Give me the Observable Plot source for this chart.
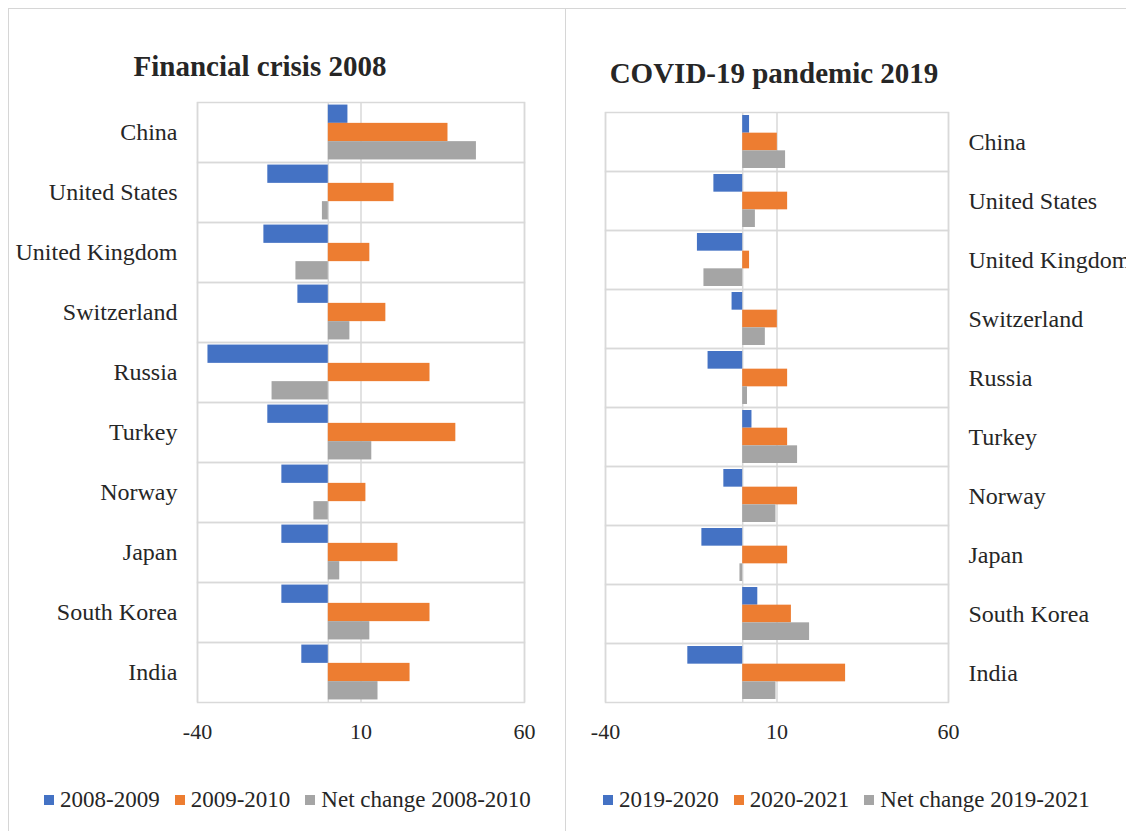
<!DOCTYPE html>
<html>
<head>
<meta charset="utf-8">
<script src="https://cdn.jsdelivr.net/npm/d3@7"></script>
<script src="https://cdn.jsdelivr.net/npm/@observablehq/plot@0.6"></script>
<style>
  html, body { margin: 0; padding: 0; background: #fff; }
  #root { position: relative; width: 1126px; height: 831px; overflow: hidden; font-family: "Liberation Serif", "Times New Roman", serif; color: #262626; }
  .abs { position: absolute; }
  .title { font-weight: bold; font-size: 29px; line-height: 29px; white-space: nowrap; transform: translateX(-50%); }
  .legend { display: flex; gap: 15px; font-size: 23px; line-height: 23px; white-space: nowrap; }
  .legend .item { display: flex; align-items: center; }
  .legend .sw { width: 10px; height: 10px; margin-right: 6px; }
  .line { background: #d6d6d6; }
</style>
</head>
<body>
<div id="root"></div>
<script>
const countries = ["China", "United States", "United Kingdom", "Switzerland", "Russia", "Turkey", "Norway", "Japan", "South Korea", "India"];
const colors = ["#4472C4", "#ED7D31", "#A5A5A5"];
const xTicks = [-40, 10, 60];

// Financial crisis 2008
const seriesA = ["2008-2009", "2009-2010", "Net change 2008-2010"];
const a2008_2009 = [6.0, -18.5, -19.7, -9.3, -36.8, -18.5, -14.2, -14.2, -14.2, -8.1];
const a2009_2010 = [36.6, 20.1, 12.7, 17.6, 31.1, 39.0, 11.5, 21.3, 31.1, 25.0];
const aNet = [45.3, -1.8, -9.9, 6.6, -17.2, 13.3, -4.4, 3.5, 12.7, 15.2];

// COVID-19 pandemic 2019
const seriesB = ["2019-2020", "2020-2021", "Net change 2019-2021"];
const b2019_2020 = [2.0, -8.4, -13.2, -3.1, -10.1, 2.7, -5.5, -11.9, 4.4, -16.0];
const b2020_2021 = [10.1, 13.1, 2.0, 10.1, 13.1, 13.1, 16.0, 13.1, 14.2, 30.0];
const bNet = [12.5, 3.7, -11.3, 6.6, 1.4, 16.0, 9.7, -0.8, 19.5, 9.7];

function longTable(series, arrays) {
  const rows = [];
  countries.forEach((c, i) => {
    series.forEach((s, j) => rows.push({country: c, series: s, value: arrays[j][i]}));
  });
  return rows;
}

const root = document.getElementById("root");
function addDiv(cls, styles, text) {
  const d = document.createElement("div");
  d.className = cls;
  Object.assign(d.style, styles);
  if (text != null) d.textContent = text;
  root.appendChild(d);
  return d;
}

// outer box lines
addDiv("abs line", {left: "8px", top: "8px", width: "1118px", height: "1px"});
addDiv("abs line", {left: "8px", top: "8px", width: "1px", height: "823px"});
addDiv("abs line", {left: "565px", top: "8px", width: "1px", height: "823px"});

function panel(series, arrays, opts) {
  const data = longTable(series, arrays);
  const chart = Plot.plot({
    width: 560,
    height: opts.height,
    marginLeft: opts.marginLeft,
    marginRight: opts.marginRight,
    marginTop: opts.marginTop,
    marginBottom: 50,
    x: {domain: [-40, 60]},
    fy: {domain: countries, padding: 0, round: false},
    y: {domain: series, axis: null, paddingInner: 0, paddingOuter: opts.pad, round: false},
    color: {domain: series, range: colors},
    style: {fontFamily: "Liberation Serif, Times New Roman, serif", color: "#262626", background: "transparent", overflow: "visible"},
    marks: [
      Plot.frame({stroke: "#d9d9d9", strokeWidth: 1.5}),
      Plot.ruleX([-40, 0, 10, 60], {stroke: "#d9d9d9", strokeWidth: 1.5}),
      Plot.barX(data, {x: "value", y: "series", fy: "country", fill: "series"}),
      Plot.axisX({ticks: xTicks, tickSize: 0, tickPadding: 21, fontSize: 22, tickFormat: d => String(d), label: null}),
      Plot.axisFy({anchor: opts.fyAnchor, tickSize: 0, tickPadding: 20, fontSize: 24, label: null})
    ]
  });
  chart.style.position = "absolute";
  chart.style.left = opts.left + "px";
  chart.style.top = opts.top + "px";
  root.appendChild(chart);
}

panel(seriesA, [a2008_2009, a2009_2010, aNet], {left: 0, top: 90, height: 662, marginLeft: 197, marginRight: 36, marginTop: 12, pad: 0.14, fyAnchor: "left"});
panel(seriesB, [b2019_2020, b2020_2021, bNet], {left: 566, top: 90, height: 662, marginLeft: 39, marginRight: 178, marginTop: 22, pad: 0.17, fyAnchor: "right"});

// titles
addDiv("abs title", {left: "260px", top: "52px"}, "Financial crisis 2008");
addDiv("abs title", {left: "774px", top: "59px"}, "COVID-19 pandemic 2019");

// legends
function legend(series, left) {
  const lg = addDiv("abs legend", {left: left + "px", top: "788px"});
  series.forEach((s, i) => {
    const it = document.createElement("div");
    it.className = "item";
    const sw = document.createElement("div");
    sw.className = "sw";
    sw.style.background = colors[i];
    const t = document.createElement("span");
    t.textContent = s;
    it.appendChild(sw);
    it.appendChild(t);
    lg.appendChild(it);
  });
}
legend(seriesA, 44);
legend(seriesB, 603);
</script>
</body>
</html>
